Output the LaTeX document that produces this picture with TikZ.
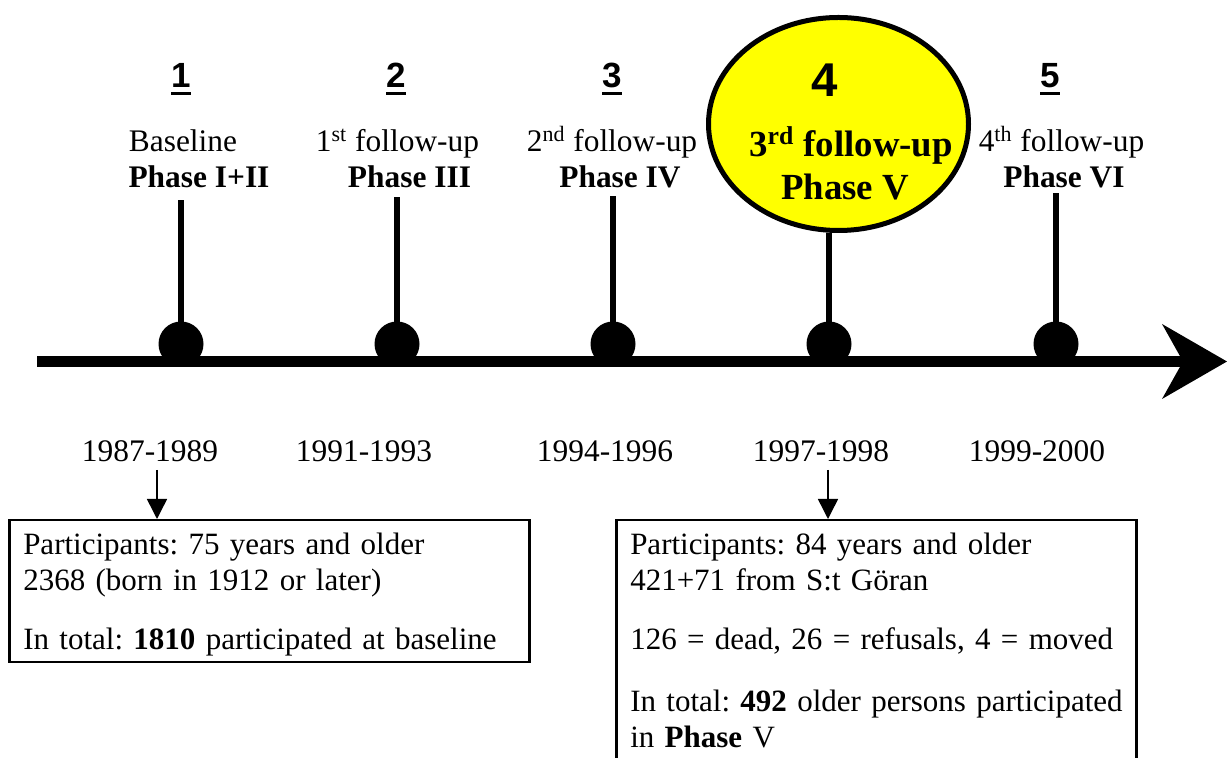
\documentclass[tikz,border=0pt]{standalone}
\usepackage{fontspec}
\setmainfont{Liberation Serif}
\newfontfamily\numfont{Liberation Sans}
\usetikzlibrary{arrows.meta, positioning, shapes.geometric}

\definecolor{hlyellow}{RGB}{255, 255, 0}

\frenchspacing
\hyphenpenalty=10000
\exhyphenpenalty=10000

\newcommand{\waveno}[1]{\setbox0=\hbox{#1}\rlap{\rule[-3.5pt]{\wd0}{1.5pt}}\box0}
\newcommand{\topgap}{\rule{0pt}{17pt}}
\newcommand{\botgap}[1]{\rule[-#1]{0pt}{#1}}

\tikzset{
  wave/.style={font=\numfont\bfseries\fontsize{17.5}{20}\selectfont, anchor=base, inner sep=0pt},
  lbl/.style={font=\fontsize{15.7}{18}\selectfont, anchor=base, inner sep=0pt},
  lblb/.style={lbl, font=\fontsize{15.7}{18}\selectfont\bfseries},
  hltext/.style={lbl, font=\fontsize{18.4}{21}\selectfont\bfseries},
  dot/.style={circle, fill=black, minimum size=22.5pt, inner sep=0pt},
  stem/.style={line width=3pt},
  infobox/.style={draw, line width=1.25pt, anchor=north west, align=left, inner xsep=7pt, inner ysep=0pt, text width=246pt, font=\fontsize{15.5}{18}\selectfont},
  down/.style={line width=0.75pt, -{Triangle[length=10pt, width=10pt]}},
}

\begin{document}
\begin{tikzpicture}[x=0.5pt, y=-0.5pt]
  \clip (0,0) rectangle (1227,758);

  % time axis
  \coordinate (axstart) at (37,361.5);
  \coordinate (axend) at (1227,361.5);
  \draw[line width=5.5pt, -{Stealth[length=32.5pt, width=37.5pt, inset=10.5pt, line width=0pt]}] (axstart) -- (axend);

  % highlighted wave
  \node[ellipse, draw, line width=2.5pt, fill=hlyellow, minimum width=130pt, minimum height=106.5pt, inner sep=0pt] (hl) at (838.5,124) {};

  % dots on the axis
  \node[dot] (d1) at (181,344) {};
  \node[dot] (d2) at (397,344) {};
  \node[dot] (d3) at (613,344) {};
  \node[dot] (d4) at (829,344) {};
  \node[dot] (d5) at (1056,344) {};

  % stems
  \coordinate (s1) at (181,200);
  \coordinate (s2) at (397,197);
  \coordinate (s3) at (613,196);
  \coordinate (s5) at (1056,193);
  \draw[stem] (d1.center) -- (s1);
  \draw[stem] (d2.center) -- (s2);
  \draw[stem] (d3.center) -- (s3);
  \draw[stem] (d4.center) -- (d4 |- hl.south);
  \draw[stem] (d5.center) -- (s5);

  % wave numbers
  \node[wave] (n1) at (181,88) {\waveno{1}};
  \node[wave] (n2) at (396,88) {\waveno{2}};
  \node[wave] (n3) at (612,88) {\waveno{3}};
  \node[wave, font=\numfont\bfseries\fontsize{23.7}{26}\selectfont] (n4) at (825,97) {4};
  \node[wave] (n5) at (1050,88) {\waveno{5}};

  % wave labels
  \node[lbl] (t1) at (183,152) {Baseline};
  \node[lblb] (p1) at (199,188) {Phase I+II};
  \node[lbl] (t2) at (397.5,152) {1\textsuperscript{st} follow-up};
  \node[lblb] (p2) at (409.5,188) {Phase III};
  \node[lbl] (t3) at (612,152) {2\textsuperscript{nd} follow-up};
  \node[lblb] (p3) at (620,188) {Phase IV};
  \node[hltext] (t4) at (851,157) {3\textsuperscript{rd} follow-up};
  \node[hltext] (p4) at (845,200) {Phase V};
  \node[lbl] (t5) at (1061.5,152) {4\textsuperscript{th} follow-up};
  \node[lblb] (p5) at (1064,188) {Phase VI};

  % years
  \node[lbl] (y1) at (150,462) {1987-1989};
  \node[lbl] (y2) at (364,462) {1991-1993};
  \node[lbl] (y3) at (605,462) {1994-1996};
  \node[lbl] (y4) at (821,462) {1997-1998};
  \node[lbl] (y5) at (1037,462) {1999-2000};

  % participant boxes
  \node[infobox] (b1) at (8,519) {\topgap Participants: 75 years and older\\ 2368 (born in 1912 or later)\\[11.5pt] In total: \textbf{1810} participated at baseline\botgap{6.5pt}};
  \node[infobox] (b2) at (615,519) {\topgap Participants: 84 years and older\\ 421+71 from S:t Göran\\[11.5pt] 126 = dead, 26 = refusals, 4 = moved\\[13pt] \mbox{In total: \textbf{492} older persons participated}\\ in \textbf{Phase} V\botgap{12pt}};

  % arrows to the boxes
  \coordinate (a1) at (157,470);
  \coordinate (a4) at (828,470);
  \draw[down] (a1) -- (a1 |- b1.north);
  \draw[down] (a4) -- (a4 |- b2.north);
\end{tikzpicture}
\end{document}
